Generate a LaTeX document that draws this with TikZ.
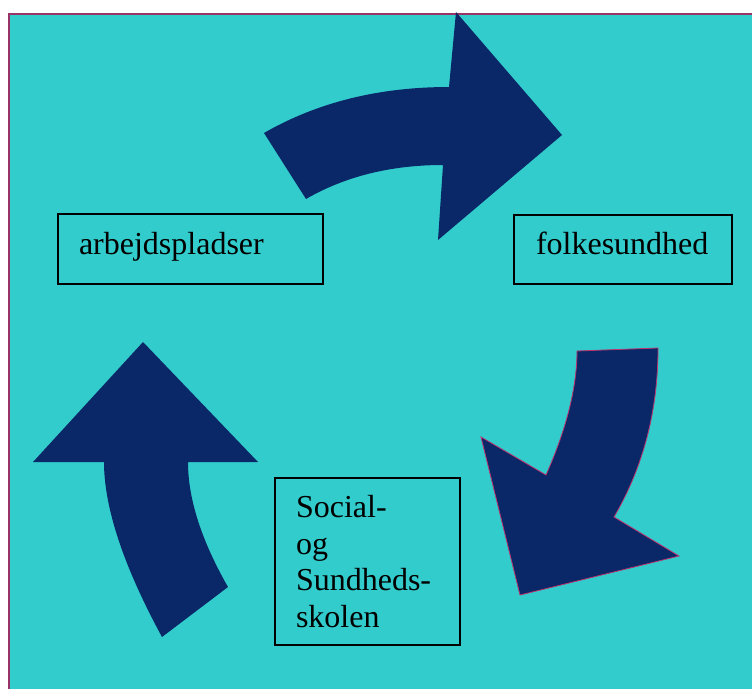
\documentclass[tikz,border=0pt]{standalone}
\usepackage{fontspec}
\setmainfont{Liberation Serif}
\definecolor{bgteal}{RGB}{51,204,204}
\definecolor{framepurple}{RGB}{153,51,102}
\definecolor{arrownavy}{RGB}{10,40,104}
\definecolor{arrowedge}{RGB}{190,50,110}
\tikzset{
  arrowshape/.style={fill=arrownavy, draw=none},
  labelbox/.style={draw=black, line width=2pt, rectangle, align=left,
    font=\fontsize{32}{36.7}\selectfont, inner ysep=0pt, anchor=north west}
}
\begin{document}
\begin{tikzpicture}[x=1pt,y=-1pt]
\useasboundingbox (0,0) rectangle (752,688);
% background panel
\fill[bgteal] (8,13) rectangle (770,700);
\draw[framepurple, line width=2pt] (9,700) -- (9,14) -- (770,14);
% top arrow
\fill[arrowshape] (264,133) .. controls (317.3,102.3) and (379,87) .. (449,87)
  -- (456,12) -- (562,135) -- (438,240) -- (443,165)
  .. controls (391,165) and (345.3,176.3) .. (306,199) -- cycle;
% right arrow
\filldraw[arrowshape, draw=arrowedge, line width=0.8pt] (577,351)
  .. controls (577,387) and (566.7,428.3) .. (546,475)
  -- (481,437) -- (520,595) -- (679,556) -- (614,517)
  .. controls (643.3,467) and (658,410.7) .. (658,348) -- cycle;
% left arrow
\fill[arrowshape] (143,342) -- (258,462) -- (188,462)
  .. controls (188,498.7) and (201.3,540.3) .. (228,587)
  -- (162,637)
  .. controls (123.3,565.7) and (104,507.3) .. (104,462)
  -- (33,462) -- cycle;
% boxes
\node[labelbox, text width=223pt, inner xsep=21pt, minimum height=70pt,
  text height=22pt, text depth=12pt] (arb) at (57,213) {arbejdspladser};
\node[labelbox, text width=174pt, inner xsep=22pt, minimum height=69pt,
  text height=22pt, text depth=13pt] (folk) at (513,214) {folkesundhed};
\node[labelbox, text width=143pt, inner xsep=21pt, minimum height=167pt]
  (soc) at (274,477) {Social-\\og\\Sundheds-\\skolen};
\end{tikzpicture}
\end{document}
